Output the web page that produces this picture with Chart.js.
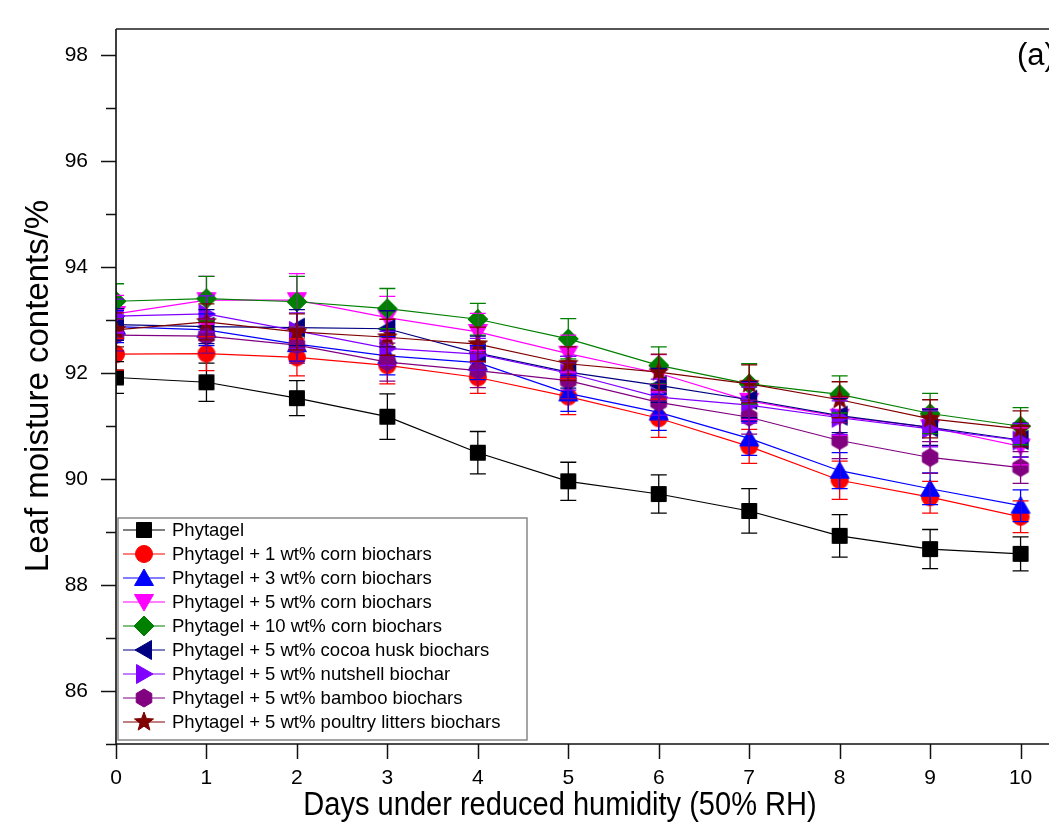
<!DOCTYPE html>
<html>
<head>
<meta charset="UTF-8" />
<script src="https://cdn.jsdelivr.net/npm/chart.js"></script>
<style>
  body { margin: 0; overflow: hidden; background: #fff; }
  #wrap { width: 1076px; height: 823px; }
  canvas { display: block; }
</style>
</head>
<body>
<div id="wrap"><canvas id="chart" width="1076" height="823"></canvas></div>
<script>
// Данные
const days = [0, 1, 2, 3, 4, 5, 6, 7, 8, 9, 10];

const seriesLabels = [
  'Phytagel',
  'Phytagel + 1 wt% corn biochars',
  'Phytagel + 3 wt% corn biochars',
  'Phytagel + 5 wt% corn biochars',
  'Phytagel + 10 wt% corn biochars',
  'Phytagel + 5 wt% cocoa husk biochars',
  'Phytagel + 5 wt% nutshell biochar',
  'Phytagel + 5 wt% bamboo biochars',
  'Phytagel + 5 wt% poultry litters biochars',
];

const phytagel   = [91.92, 91.83, 91.53, 91.18, 90.50, 89.96, 89.72, 89.40, 88.93, 88.68, 88.59];
const corn1      = [92.36, 92.37, 92.30, 92.15, 91.92, 91.56, 91.15, 90.62, 89.98, 89.66, 89.29];
const corn3      = [92.88, 92.82, 92.55, 92.33, 92.20, 91.62, 91.26, 90.77, 90.16, 89.82, 89.50];
const corn5      = [93.12, 93.38, 93.38, 93.05, 92.78, 92.37, 92.00, 91.48, 91.18, 90.98, 90.62];
const corn10     = [93.36, 93.41, 93.35, 93.22, 93.02, 92.65, 92.15, 91.80, 91.60, 91.24, 91.00];
const cocoa5     = [92.92, 92.88, 92.86, 92.84, 92.38, 92.02, 91.77, 91.50, 91.20, 90.98, 90.74];
const nutshell5  = [93.08, 93.12, 92.80, 92.47, 92.36, 92.00, 91.55, 91.40, 91.16, 90.95, 90.73];
const bamboo5    = [92.72, 92.70, 92.53, 92.21, 92.05, 91.86, 91.45, 91.17, 90.73, 90.41, 90.22];
const poultry5   = [92.82, 92.97, 92.78, 92.68, 92.55, 92.18, 92.02, 91.80, 91.50, 91.14, 90.95];

// Погрешности (±)
const phytagelErr  = [0.30, 0.36, 0.33, 0.43, 0.40, 0.36, 0.36, 0.42, 0.40, 0.37, 0.32];
const corn1Err     = [0.30, 0.32, 0.35, 0.35, 0.30, 0.34, 0.36, 0.32, 0.36, 0.30, 0.30];
const corn3Err     = [0.30, 0.30, 0.32, 0.36, 0.32, 0.34, 0.34, 0.32, 0.34, 0.30, 0.30];
const corn5Err     = [0.35, 0.45, 0.50, 0.40, 0.35, 0.35, 0.35, 0.35, 0.35, 0.35, 0.35];
const corn10Err    = [0.33, 0.42, 0.48, 0.38, 0.30, 0.38, 0.35, 0.38, 0.35, 0.38, 0.35];
const cocoa5Err    = [0.30, 0.32, 0.34, 0.34, 0.32, 0.30, 0.32, 0.34, 0.32, 0.34, 0.32];
const nutshell5Err = [0.32, 0.34, 0.34, 0.32, 0.30, 0.32, 0.34, 0.34, 0.32, 0.34, 0.32];
const bamboo5Err   = [0.30, 0.32, 0.34, 0.36, 0.32, 0.34, 0.34, 0.32, 0.34, 0.30, 0.30];
const poultry5Err  = [0.32, 0.34, 0.34, 0.34, 0.32, 0.32, 0.34, 0.36, 0.34, 0.36, 0.34];

const seriesValues = [phytagel, corn1, corn3, corn5, corn10, cocoa5, nutshell5, bamboo5, poultry5];
const seriesErrors = [phytagelErr, corn1Err, corn3Err, corn5Err, corn10Err, cocoa5Err, nutshell5Err, bamboo5Err, poultry5Err];
const seriesColors = ['#000000', '#ff0000', '#0000ff', '#ff00ff', '#008000', '#000080', '#8000ff', '#800080', '#800000'];
const seriesShapes = ['square', 'circle', 'up', 'down', 'diamond', 'left', 'right', 'hexagon', 'star'];

const yTitle = 'Leaf moisture contents/%';
const xTitle = 'Days under reduced humidity (50% RH)';
const panelTag = '(a)';

const FONT = "'Liberation Sans', Arial, sans-serif";

// Маркеры в стиле Origin
function makeMarker(shape, color) {
  const s = 24;
  const c = document.createElement('canvas');
  c.width = s; c.height = s;
  const g = c.getContext('2d');
  g.translate(s / 2, s / 2);
  g.fillStyle = color;
  g.strokeStyle = color;
  g.lineWidth = 1;
  g.beginPath();
  const poly = pts => { pts.forEach((p, i) => i ? g.lineTo(p[0], p[1]) : g.moveTo(p[0], p[1])); g.closePath(); };
  switch (shape) {
    case 'square': g.rect(-7.5, -7.5, 15, 15); break;
    case 'circle': g.arc(0, 0, 8.5, 0, Math.PI * 2); break;
    case 'up': poly([[0, -9], [9.5, 7.5], [-9.5, 7.5]]); break;
    case 'down': poly([[0, 9], [9.5, -7.5], [-9.5, -7.5]]); break;
    case 'left': poly([[-9, 0], [7.5, -9.5], [7.5, 9.5]]); break;
    case 'right': poly([[9, 0], [-7.5, -9.5], [-7.5, 9.5]]); break;
    case 'diamond': poly([[0, -10], [10, 0], [0, 10], [-10, 0]]); break;
    case 'hexagon': {
      const pts = [];
      for (let k = 0; k < 6; k++) {
        const a = -Math.PI / 2 + k * Math.PI / 3;
        pts.push([9 * Math.cos(a), 9 * Math.sin(a)]);
      }
      poly(pts);
      break;
    }
    case 'star': {
      const pts = [];
      for (let k = 0; k < 10; k++) {
        const r = k % 2 ? 4.2 : 10;
        const a = -Math.PI / 2 + k * Math.PI / 5;
        pts.push([r * Math.cos(a), r * Math.sin(a)]);
      }
      poly(pts);
      break;
    }
  }
  g.fill();
  g.stroke();
  return c;
}

const markers = seriesShapes.map((sh, i) => makeMarker(sh, seriesColors[i]));

const datasets = seriesValues.map((vals, i) => ({
  label: seriesLabels[i],
  data: days.map((d, j) => ({ x: d, y: vals[j] })),
  borderColor: seriesColors[i],
  backgroundColor: seriesColors[i],
  borderWidth: 1.2,
  pointStyle: markers[i],
  pointRadius: 9,
  tension: 0,
  order: -i,
  errors: seriesErrors[i],
}));

// Планки погрешностей
const errorBars = {
  id: 'errorBars',
  afterDatasetsDraw(chart) {
    const { ctx, chartArea, scales: { x, y } } = chart;
    ctx.save();
    ctx.beginPath();
    ctx.rect(chartArea.left, chartArea.top, chartArea.right - chartArea.left, chartArea.bottom - chartArea.top);
    ctx.clip();
    chart.data.datasets.forEach(ds => {
      ctx.strokeStyle = ds.borderColor;
      ctx.lineWidth = 1.3;
      ds.data.forEach((p, j) => {
        const e = ds.errors[j];
        const px = x.getPixelForValue(p.x);
        const yt = y.getPixelForValue(p.y + e);
        const yb = y.getPixelForValue(p.y - e);
        ctx.beginPath();
        ctx.moveTo(px, yt); ctx.lineTo(px, yb);
        ctx.moveTo(px - 8, yt); ctx.lineTo(px + 8, yt);
        ctx.moveTo(px - 8, yb); ctx.lineTo(px + 8, yb);
        ctx.stroke();
      });
    });
    ctx.restore();
  },
};

// Рамка, деления, подписи осей, легенда
const decorations = {
  id: 'decorations',
  afterDraw(chart) {
    const { ctx, chartArea: a, scales: { x, y } } = chart;
    ctx.save();

    // рамка
    ctx.strokeStyle = '#555';
    ctx.lineWidth = 2;
    ctx.beginPath();
    ctx.moveTo(a.left, a.top); ctx.lineTo(a.right, a.top); ctx.lineTo(a.right, a.bottom);
    ctx.stroke();
    ctx.strokeStyle = '#111';
    ctx.lineWidth = 1.6;
    ctx.beginPath();
    ctx.moveTo(a.left, a.top); ctx.lineTo(a.left, a.bottom); ctx.lineTo(a.right, a.bottom);
    ctx.stroke();

    // деления
    ctx.lineWidth = 1.5;
    ctx.beginPath();
    y.ticks.forEach(t => {
      if (!Number.isInteger(t.value)) return;
      const py = Math.round(y.getPixelForValue(t.value)) + 0.5;
      const len = t.value % 2 === 0 ? 15 : 10;
      ctx.moveTo(a.left - len, py); ctx.lineTo(a.left, py);
    });
    x.ticks.forEach(t => {
      if (!Number.isInteger(t.value)) return;
      const px = Math.round(x.getPixelForValue(t.value)) + 0.5;
      ctx.moveTo(px, a.bottom); ctx.lineTo(px, a.bottom + 15);
    });
    ctx.stroke();

    // подписи осей
    ctx.fillStyle = '#000';
    ctx.textAlign = 'center';
    ctx.textBaseline = 'middle';
    ctx.save();
    ctx.translate(560, 806);
    ctx.scale(0.88, 1);
    ctx.font = `33px ${FONT}`;
    ctx.fillText(xTitle, 0, 0);
    ctx.restore();
    ctx.save();
    ctx.translate(39, 386);
    ctx.rotate(-Math.PI / 2);
    ctx.font = `33px ${FONT}`;
    ctx.fillText(yTitle, 0, 0);
    ctx.restore();

    ctx.textAlign = 'left';
    ctx.font = `31px ${FONT}`;
    ctx.fillText(panelTag, 1017, 56);

    // легенда
    const lx = 118, ly = 518, lw = 409, lh = 222, rowH = 24;
    ctx.fillStyle = '#fff';
    ctx.fillRect(lx, ly, lw, lh);
    ctx.strokeStyle = '#888';
    ctx.lineWidth = 1.5;
    ctx.strokeRect(lx, ly, lw, lh);
    ctx.font = `18.5px ${FONT}`;
    chart.data.datasets.forEach((ds, i) => {
      const ry = ly + 12 + i * rowH;
      ctx.strokeStyle = ds.borderColor;
      ctx.lineWidth = 1.2;
      ctx.beginPath();
      ctx.moveTo(lx + 5, ry); ctx.lineTo(lx + 47, ry);
      ctx.stroke();
      const m = ds.pointStyle;
      ctx.drawImage(m, lx + 26 - m.width / 2, ry - m.height / 2);
      ctx.fillStyle = '#000';
      ctx.fillText(ds.label, lx + 54, ry + 1);
    });

    ctx.restore();
  },
};

new Chart(document.getElementById('chart'), {
  type: 'line',
  data: { datasets },
  options: {
    responsive: false,
    animation: false,
    layout: { padding: { top: 29, right: 0, left: 0, bottom: 0 } },
    plugins: { legend: { display: false }, tooltip: { enabled: false } },
    scales: {
      x: {
        type: 'linear',
        min: 0,
        max: 10.5,
        grid: { display: false },
        border: { display: false },
        ticks: {
          stepSize: 1,
          includeBounds: false,
          autoSkip: false,
          maxRotation: 0,
          padding: 14,
          color: '#000',
          font: { family: FONT, size: 21 },
          callback: v => (Number.isInteger(v) ? v : ''),
        },
        afterFit: s => { s.height = 79; },
      },
      y: {
        min: 85,
        max: 98.5,
        grid: { display: false },
        border: { display: false },
        ticks: {
          stepSize: 1,
          includeBounds: false,
          autoSkip: false,
          padding: 20,
          color: '#000',
          font: { family: FONT, size: 21 },
          callback: v => (Number.isInteger(v) && v % 2 === 0 ? v : ''),
        },
        afterFit: s => { s.width = 116; s.paddingTop = 0; s.paddingBottom = 0; },
      },
    },
  },
  plugins: [errorBars, decorations],
});
</script>
</body>
</html>
